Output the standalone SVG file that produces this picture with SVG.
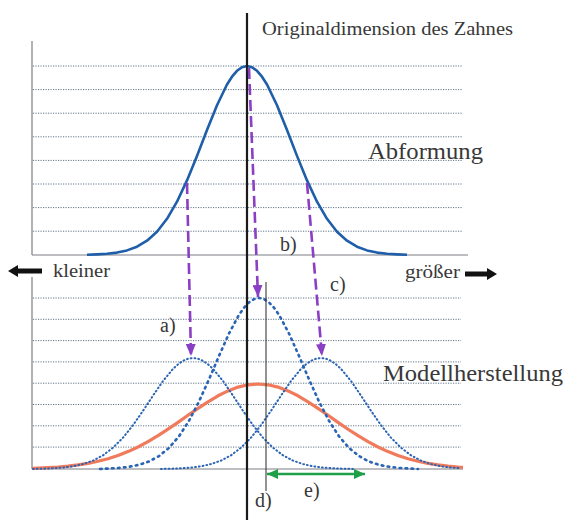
<svg xmlns="http://www.w3.org/2000/svg" width="566" height="520" viewBox="0 0 566 520">
<defs>
<style>
.grid{stroke:#5f7589;stroke-width:1;stroke-dasharray:1.2 1.3;fill:none}
.axis{stroke:#7a7f86;stroke-width:1.2;fill:none}
.solid{stroke:#1f5ea8;stroke-width:2.6;fill:none;stroke-linejoin:round}
.dotc{stroke:#2a64b4;stroke-width:2;fill:none;stroke-dasharray:0.8 3;stroke-linecap:round}
.dotm{stroke:#2a64b4;stroke-width:2.6;fill:none;stroke-dasharray:1.6 4.4;stroke-linecap:round}
.orange{stroke:#f07a5c;stroke-width:3.2;fill:none;stroke-linejoin:round}
.purple{stroke:#8a3fc4;stroke-width:2.6;fill:none;stroke-dasharray:11 5}
.green{stroke:#1fa048;stroke-width:2.6;fill:none}
text{font-family:"Liberation Serif","Times New Roman",serif;fill:#383838}
.lbl{font-size:20px}
.big{font-size:23px}
.med{font-size:18px}
</style>
<marker id="pa" viewBox="0 0 12 10" refX="12" refY="5" markerWidth="12" markerHeight="10" markerUnits="userSpaceOnUse" orient="auto">
<path d="M0,0 L12,5 L0,10 z" fill="#8a3fc4"/>
</marker>
<marker id="ga" viewBox="0 0 11 10" refX="11" refY="5" markerWidth="11" markerHeight="10" markerUnits="userSpaceOnUse" orient="auto-start-reverse">
<path d="M0,0 L11,5 L0,10 z" fill="#1fa048"/>
</marker>
</defs>
<rect x="0" y="0" width="566" height="520" fill="#ffffff"/>

<g id="grid-top">
<line class="grid" x1="33" y1="66" x2="463" y2="66"/>
<line class="grid" x1="33" y1="89.6" x2="463" y2="89.6"/>
<line class="grid" x1="33" y1="113.2" x2="463" y2="113.2"/>
<line class="grid" x1="33" y1="136.8" x2="463" y2="136.8"/>
<line class="grid" x1="33" y1="160.4" x2="463" y2="160.4"/>
<line class="grid" x1="33" y1="184" x2="463" y2="184"/>
<line class="grid" x1="33" y1="207.6" x2="463" y2="207.6"/>
<line class="grid" x1="33" y1="231.2" x2="463" y2="231.2"/>
</g>
<g id="grid-bottom">
<line class="grid" x1="33" y1="298" x2="461" y2="298"/>
<line class="grid" x1="33" y1="319.3" x2="461" y2="319.3"/>
<line class="grid" x1="33" y1="340.6" x2="461" y2="340.6"/>
<line class="grid" x1="33" y1="361.9" x2="461" y2="361.9"/>
<line class="grid" x1="33" y1="383.2" x2="461" y2="383.2"/>
<line class="grid" x1="33" y1="404.5" x2="461" y2="404.5"/>
<line class="grid" x1="33" y1="425.8" x2="461" y2="425.8"/>
<line class="grid" x1="33" y1="447.1" x2="461" y2="447.1"/>
</g>

<g id="axes">
<line class="axis" x1="32" y1="41" x2="32" y2="255"/>
<line class="axis" x1="32" y1="255" x2="468" y2="255"/>
<line class="axis" x1="32" y1="277" x2="32" y2="469"/>
<line class="axis" x1="32" y1="469" x2="463" y2="469"/>
</g>

<g id="curve-abformung">
<polyline class="solid" points="87,254.8 97,254.4 107,253.8 117,252.6 127,250.4 137,246.7 147,240.7 157,231.7 167,218.8 177,201.7 187,180.4 197,155.9 207,130 217,105.2 227,84.5 232,76.7 237,70.8 242,67.2 247,66 252,67.2 257,70.8 262,76.7 267,84.5 277,105.2 287,130 297,155.9 307,180.4 317,201.7 327,218.8 337,231.7 347,240.7 357,246.7 367,250.4 377,252.6 387,253.8 397,254.4 407,254.8"/>
</g>

<g id="curve-orange">
<polyline class="orange" points="32,468.3 38,468.1 48,467.6 58,467 68,466.1 78,464.9 88,463.4 98,461.3 108,458.7 118,455.5 128,451.6 138,447 148,441.7 158,435.7 168,429.2 178,422.4 188,415.3 198,408.4 208,401.8 218,395.8 228,390.9 238,387.1 248,384.8 258,384 268,384.8 278,387.1 288,390.9 298,395.8 308,401.8 318,408.4 328,415.3 338,422.4 348,429.2 358,435.7 368,441.7 378,447 388,451.6 398,455.5 408,458.7 418,461.3 428,463.4 438,464.9 448,466.1 458,467 463,467.3"/>
</g>

<g id="curve-a">
<polyline class="dotc" points="33,468.9 43,468.7 53,468.3 63,467.6 73,466.3 83,464.1 93,460.6 103,455.3 113,447.7 123,437.7 133,425.2 143,410.8 153,395.6 163,381 173,368.9 178,364.3 183,360.8 188,358.7 193,358 198,358.7 203,360.8 208,364.3 213,368.9 223,381 233,395.6 243,410.8 253,425.2 263,437.7 273,447.7 283,455.3 293,460.6 303,464.1 313,466.3 323,467.6 333,468.3 343,468.7 353,468.9"/>
</g>
<g id="curve-b">
<polyline class="dotm" points="100,469 109,468.5 119,467.9 129,466.8 139,464.8 149,461.5 159,456.1 169,447.9 179,436.3 189,420.8 199,401.5 209,379.3 219,355.9 229,333.5 239,314.8 244,307.7 249,302.4 254,299.1 259,298 264,299.1 269,302.4 274,307.7 279,314.8 289,333.5 299,355.9 309,379.3 319,401.5 329,420.8 339,436.3 349,447.9 359,456.1 369,461.5 379,464.8 389,466.8 399,467.9 409,468.5 418,469"/>
</g>
<g id="curve-c">
<polyline class="dotc" points="161,468.9 171,468.7 181,468.3 191,467.6 201,466.3 211,464.1 221,460.6 231,455.3 241,447.7 251,437.7 261,425.2 271,410.8 281,395.6 291,381 301,368.9 306,364.3 311,360.8 316,358.7 321,358 326,358.7 331,360.8 336,364.3 341,368.9 351,381 361,395.6 371,410.8 381,425.2 391,437.7 401,447.7 411,455.3 421,460.6 431,464.1 441,466.3 451,467.6 461,468.3"/>
</g>

<g id="original-line">
<line x1="247" y1="13" x2="247" y2="520" stroke="#1a1a1a" stroke-width="2.2"/>
</g>
<g id="d-line">
<line x1="266" y1="282" x2="266" y2="491" stroke="#3a3a3a" stroke-width="1.1"/>
</g>

<g id="connectors">
<line class="purple" x1="187" y1="183" x2="191" y2="356" marker-end="url(#pa)"/>
<line class="purple" x1="249" y1="68" x2="258" y2="297" marker-end="url(#pa)"/>
<line class="purple" x1="307" y1="183" x2="322" y2="356" marker-end="url(#pa)"/>
<line class="green" x1="267" y1="474" x2="365" y2="474" marker-start="url(#ga)" marker-end="url(#ga)"/>
</g>

<g id="dir-kleiner">
<polygon points="8,271 18,265 18,268.5 42,268.5 42,273.5 18,273.5 18,277" fill="#111"/>
<text class="med" x="53" y="277" textLength="57" lengthAdjust="spacingAndGlyphs">kleiner</text>
</g>
<g id="dir-groesser">
<polygon points="497,274 487,268 487,271.5 465,271.5 465,276.5 487,276.5 487,280" fill="#111"/>
<text class="med" x="405" y="278" textLength="55" lengthAdjust="spacingAndGlyphs">größer</text>
</g>

<g id="labels">
<text class="med" x="262" y="35" textLength="251" lengthAdjust="spacingAndGlyphs">Originaldimension des Zahnes</text>
<text class="big" x="368" y="159" textLength="115" lengthAdjust="spacingAndGlyphs">Abformung</text>
<text class="big" x="383" y="381" textLength="180" lengthAdjust="spacingAndGlyphs">Modellherstellung</text>
<text class="lbl" x="160" y="332">a)</text>
<text class="lbl" x="280" y="251">b)</text>
<text class="lbl" x="330" y="291">c)</text>
<text class="lbl" x="255" y="507">d)</text>
<text class="lbl" x="304" y="497">e)</text>
</g>
</svg>
